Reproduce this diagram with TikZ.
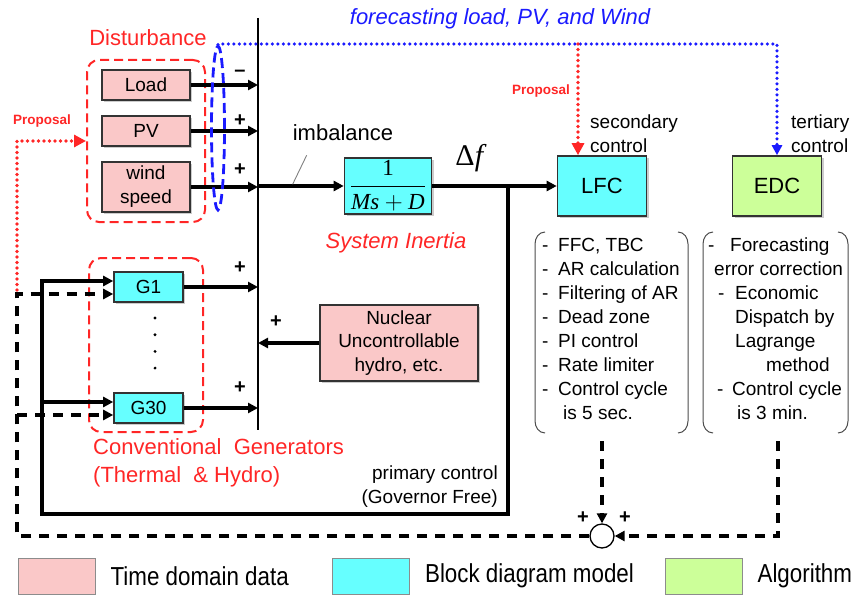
\documentclass[tikz,border=0pt]{standalone}
\usepackage[no-math]{fontspec}
\setmainfont{Liberation Sans}
\newfontfamily\serifface{Liberation Serif}
\usepackage{amsmath}
\usetikzlibrary{arrows.meta,positioning,shapes.geometric,shadows}
\definecolor{datapink}{HTML}{FAC8C8}
\definecolor{modelcyan}{HTML}{66FFFF}
\definecolor{algogreen}{HTML}{CCFF99}
\definecolor{propred}{HTML}{FF2626}
\definecolor{fcblue}{HTML}{1A1AFF}
\newcommand{\lstdash}[1]{\makebox[#1][l]{-}}

\begin{document}
\begin{tikzpicture}[x=1pt,y=-1pt,
  wire/.style={line width=3.2pt},
  sig/.style={wire,-{Triangle[length=10pt,width=10pt]}},
  fbdash/.style={line width=3.6pt,dash pattern=on 10pt off 8pt},
  fbsig/.style={fbdash,-{Triangle[length=10pt,width=10pt]}},
  blk/.style={draw=black!80,line width=1.6pt,inner sep=0pt,
    drop shadow={shadow xshift=2pt,shadow yshift=-2pt,opacity=.4},
    font=\fontsize{19}{24}\selectfont},
  datablk/.style={blk,fill=datapink},
  modelblk/.style={blk,fill=modelcyan},
  algoblk/.style={blk,fill=algogreen},
  redframe/.style={draw=propred,line width=2pt,dash pattern=on 9pt off 5pt,rounded corners=12pt},
  redtxt/.style={text=propred,inner sep=0pt,font=\fontsize{22}{28}\selectfont},
  lbltxt/.style={inner sep=0pt,font=\fontsize{19}{24}\selectfont},
  proptxt/.style={text=propred,inner sep=0pt,font=\fontsize{13.5}{16}\selectfont\bfseries},
  sgn/.style={inner sep=0pt,font=\fontsize{20}{20}\selectfont\bfseries},
  bluedot/.style={fcblue,line width=3.6pt,dash pattern=on 0pt off 5.5pt,line cap=round,
    -{Triangle[length=10pt,width=10pt]}},
  reddot/.style={propred,line width=3.6pt,dash pattern=on 0pt off 5.5pt,line cap=round,
    -{Triangle[length=12pt,width=12pt]}},
  brk/.style={line width=1pt,black!70},
  listtxt/.style={anchor=north west,align=left,inner sep=0pt,font=\fontsize{19}{24}\selectfont},
  legbox/.style={draw=black!45,line width=.8pt,minimum width=77,minimum height=36},
  legtxt/.style={inner sep=0pt,font=\fontsize{26}{30}\selectfont}]
\useasboundingbox (0,0) rectangle (851,596);

% disturbance side
\node[redtxt] (distlbl) at (148,38) {Disturbance};
\node[redframe,minimum width=118,minimum height=162] (distframe) at (146,141) {};
\node[datablk,minimum width=88,minimum height=30] (load) at (146,85) {Load};
\node[datablk,minimum width=88,minimum height=30] (pv) at (146,131) {PV};
\node[datablk,minimum width=88,minimum height=50,align=center] (wind) at (146,187) {wind\\speed};

% summing bus
\coordinate (bustop) at (258,18);
\coordinate (busbot) at (258,430);
\draw[line width=1.5pt] (bustop) -- (busbot);
\draw[sig] (load.east) -- (load.east -| bustop);
\draw[sig] (pv.east) -- (pv.east -| bustop);
\draw[sig] (wind.east) -- (wind.east -| bustop);
\node[sgn] (sgnload) at (240,73) {--};
\node[sgn] (sgnpv) at (240,121) {+};
\node[sgn] (sgnwind) at (240,170) {+};

% forecasting
\node[draw=fcblue,line width=2.8pt,dash pattern=on 10pt off 5pt,ellipse,inner sep=0pt,
  minimum width=13,minimum height=164] (fcring) at (218,128) {};
\coordinate (fcrow) at (218,44);
\node[text=fcblue,inner sep=0pt,font=\fontsize{22}{26}\selectfont\itshape] (fclbl) at (500,19)
  {forecasting load, PV, and Wind};

% generators
\node[redframe,minimum width=114,minimum height=174] (genframe) at (146,345) {};
\node[modelblk,minimum width=69,minimum height=30] (g1) at (148.5,287) {G1};
\node[modelblk,minimum width=69,minimum height=30] (g30) at (148.5,408) {G30};
\foreach \k in {0,...,3}
  \fill (155,318+16.7*\k) circle (1.6);
\node[redtxt,align=left,anchor=north west] (genlbl) at (93,438)
  {Conventional\ \ Generators\\(Thermal \ \& Hydro)};
\draw[sig] (g1.east) -- (g1.east -| bustop);
\draw[sig] (g30.east) -- (g30.east -| bustop);
\node[sgn] (sgng1) at (240,268) {+};
\node[sgn] (sgng30) at (240,388) {+};

% uncontrollable
\node[datablk,minimum width=158,minimum height=76,align=center,
  font=\fontsize{19}{23.5}\selectfont] (nuc) at (399,343) {Nuclear\\Uncontrollable\\hydro, etc.};
\draw[sig] (nuc.west) -- (nuc.west -| bustop);
\node[sgn] (sgnnuc) at (276,322) {+};

% system inertia
\node[modelblk,minimum width=87,minimum height=56,font=\fontsize{23}{26}\selectfont\serifface] (tf) at (388,186)
  {$\dfrac{\text{1}}{\text{\itshape Ms} + \text{\itshape D}}$};
\draw[sig] (tf.west -| bustop) -- (tf.west);
\node[lbltxt,font=\fontsize{22}{26}\selectfont] (imblbl) at (343,133) {imbalance};
\draw[gray,line width=.9pt] ([xshift=14pt,yshift=-14pt]imblbl.south west) -- ++(-14,29);
\node[redtxt,font=\fontsize{22}{26}\selectfont\itshape] (inertlbl) at (396,243) {System Inertia};
\node[inner sep=0pt,font=\fontsize{30}{34}\selectfont\serifface] (dflbl) at (471,158) {Δ\textit{f}};

% controllers
\node[modelblk,minimum width=89,minimum height=60,font=\fontsize{22}{26}\selectfont] (lfc) at (602,186) {LFC};
\node[algoblk,minimum width=89,minimum height=60,font=\fontsize{22}{26}\selectfont] (edc) at (777,186) {EDC};
\draw[sig] (tf.east) -- (lfc.west);
\node[lbltxt,align=left,anchor=west] (seclbl) at (590,134) {secondary\\control};
\node[lbltxt,align=left,anchor=west] (terlbl) at (791,134) {tertiary\\control};

% primary control loop
\coordinate (tap) at (508,186);
\coordinate (loopbl) at (42,514);
\draw[sig] (tap) |- (loopbl) |- ([yshift=6pt]g1.west);
\draw[sig] ([yshift=6pt]g30.west -| loopbl) -- ([yshift=6pt]g30.west);
\node[lbltxt,align=right,anchor=east] (primlbl) at (498,487) {primary control\\(Governor Free)};

% forecast and proposal links
\draw[bluedot] (fcring.north) -- (fcrow) -| (edc.north);
\draw[reddot] ([xshift=-24pt]lfc.north |- fcrow) -- ([xshift=-24pt]lfc.north);
\node[proptxt] (proplfc) at (541,91) {Proposal};
\coordinate (propfoot) at (17,290);
\draw[reddot] (propfoot) |- (distframe.west);
\node[proptxt] (propdist) at (42,121) {Proposal};

% algorithm lists
\node[listtxt] (lfclist) at (542,238)
  {\lstdash{16pt}FFC, TBC\\ \lstdash{16pt}AR calculation\\ \lstdash{16pt}Filtering of AR\\
   \lstdash{16pt}Dead zone\\ \lstdash{16pt}PI control\\ \lstdash{16pt}Rate limiter\\
   \lstdash{16pt}Control cycle\\ \hspace*{21pt}is 5 sec.};
\draw[brk] (545,232) to[out=180,in=90] (535,244) -- (535,421) to[out=-90,in=180] (545,433);
\draw[brk] (678,232) to[out=0,in=90] (688,244) -- (688,421) to[out=-90,in=0] (678,433);
\node[listtxt] (edclist) at (708,238)
  {\lstdash{22pt}Forecasting\\ \hspace*{6pt}error correction\\
   \hspace*{10pt}\lstdash{17pt}Economic\\ \hspace*{27pt}Dispatch by\\
   \hspace*{27pt}Lagrange\\ \hspace*{58pt}method\\
   \hspace*{9pt}\lstdash{15pt}Control cycle\\ \hspace*{29pt}is 3 min.};
\draw[brk] (713,232) to[out=180,in=90] (703,244) -- (703,421) to[out=-90,in=180] (713,433);
\draw[brk] (838,232) to[out=0,in=90] (848,244) -- (848,421) to[out=-90,in=0] (838,433);

% secondary/tertiary feedback
\node[circle,draw,line width=1.3pt,fill=white,minimum size=24,inner sep=0pt] (sum) at (602,536) {};
\coordinate (lfcdrop) at (602,441);
\coordinate (edcdrop) at (778,441);
\coordinate (fbcorner) at (17,536);
\draw[fbsig] (lfcdrop) -- (sum.north);
\draw[fbsig] (edcdrop) |- (sum.east);
\draw[fbsig] (sum.west) -- (fbcorner) |- ([yshift=-7pt]g1.west);
\draw[fbsig] ([yshift=-7pt]g30.west -| fbcorner) -- ([yshift=-7pt]g30.west);
\node[sgn] (sgnsec) at (583,518) {+};
\node[sgn] (sgnter) at (625,518) {+};

% legend
\node[legbox,fill=datapink] (legdata) at (56.5,576) {};
\node[legtxt,right=15pt of legdata] (legdatatxt) {\scalebox{.86}[1]{Time domain data}};
\node[legbox,fill=modelcyan] (legmodel) at (371,576) {};
\node[legtxt,right=15pt of legmodel] (legmodeltxt) {\scalebox{.86}[1]{Block diagram model}};
\node[legbox,fill=algogreen] (legalgo) at (703.5,576) {};
\node[legtxt,right=15pt of legalgo] (legalgotxt) {\scalebox{.86}[1]{Algorithm}};
\end{tikzpicture}
\end{document}
